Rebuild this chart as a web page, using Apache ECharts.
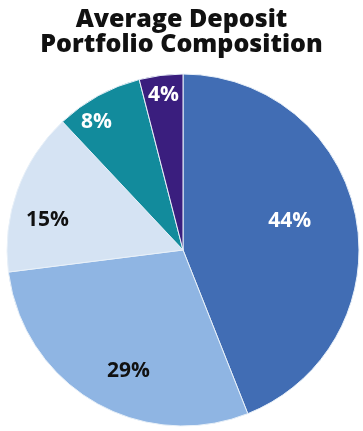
<!DOCTYPE html>
<html>
<head>
<meta charset="utf-8">
<script src="https://cdn.jsdelivr.net/npm/echarts@6/dist/echarts.min.js"></script>
<style>
  html, body { margin: 0; padding: 0; background: #fff; }
  #chart { width: 363px; height: 431px; }
</style>
</head>
<body>
<div id="chart"></div>
<script>
// Share of the average deposit portfolio, clockwise from 12 o'clock
const categories = ['Segment A', 'Segment B', 'Segment C', 'Segment D', 'Segment E'];
const shares = [44, 29, 15, 8, 4];

// Slice and label styling
const sliceColors = ['#416db4', '#8fb5e3', '#d5e3f3', '#128b9c', '#3a1e7e'];
const labelColors = ['#ffffff', '#111111', '#111111', '#ffffff', '#ffffff'];
// label placement: fraction of the radius, and turn (degrees) from the slice's mid-angle
const labelRadiusFrac = [0.627, 0.752, 0.789, 0.876, 0.885];
const labelTurnDeg = [-4.2, -6.3, -7.3, -5.4, 0];

const CX = 183, CY = 250, R = 176;

const chart = echarts.init(document.getElementById('chart'), null, { renderer: 'canvas' });

const total = shares.reduce((a, b) => a + b, 0);
const midAngles = [];
let acc = 0;
shares.forEach(v => {
  midAngles.push((acc + v / 2) / total * Math.PI * 2);
  acc += v;
});

chart.setOption({
  animation: false,
  title: {
    text: 'Average Deposit\nPortfolio Composition',
    left: 'center',
    top: 2,
    textStyle: {
      fontFamily: 'Open Sans',
      fontWeight: 800,
      fontSize: 25,
      lineHeight: 25,
      color: '#111111'
    }
  },
  series: [{
    type: 'pie',
    center: [CX, CY],
    radius: [0, R],
    startAngle: 90,
    clockwise: true,
    itemStyle: { borderColor: '#e8f0f8', borderWidth: 1 },
    label: {
      show: true,
      position: 'inside',
      formatter: '{c}%',
      fontFamily: 'Open Sans',
      fontWeight: 'bold',
      fontSize: 21
    },
    labelLine: { show: false },
    labelLayout: function (p) {
      const i = p.dataIndex;
      const a = midAngles[i] + labelTurnDeg[i] * Math.PI / 180;
      const r = R * labelRadiusFrac[i];
      return {
        x: CX + Math.sin(a) * r,
        y: CY - Math.cos(a) * r,
        align: 'center',
        verticalAlign: 'middle'
      };
    },
    data: shares.map((v, i) => ({
      name: categories[i],
      value: v,
      itemStyle: { color: sliceColors[i] },
      label: { color: labelColors[i] }
    }))
  }]
});
</script>
</body>
</html>
